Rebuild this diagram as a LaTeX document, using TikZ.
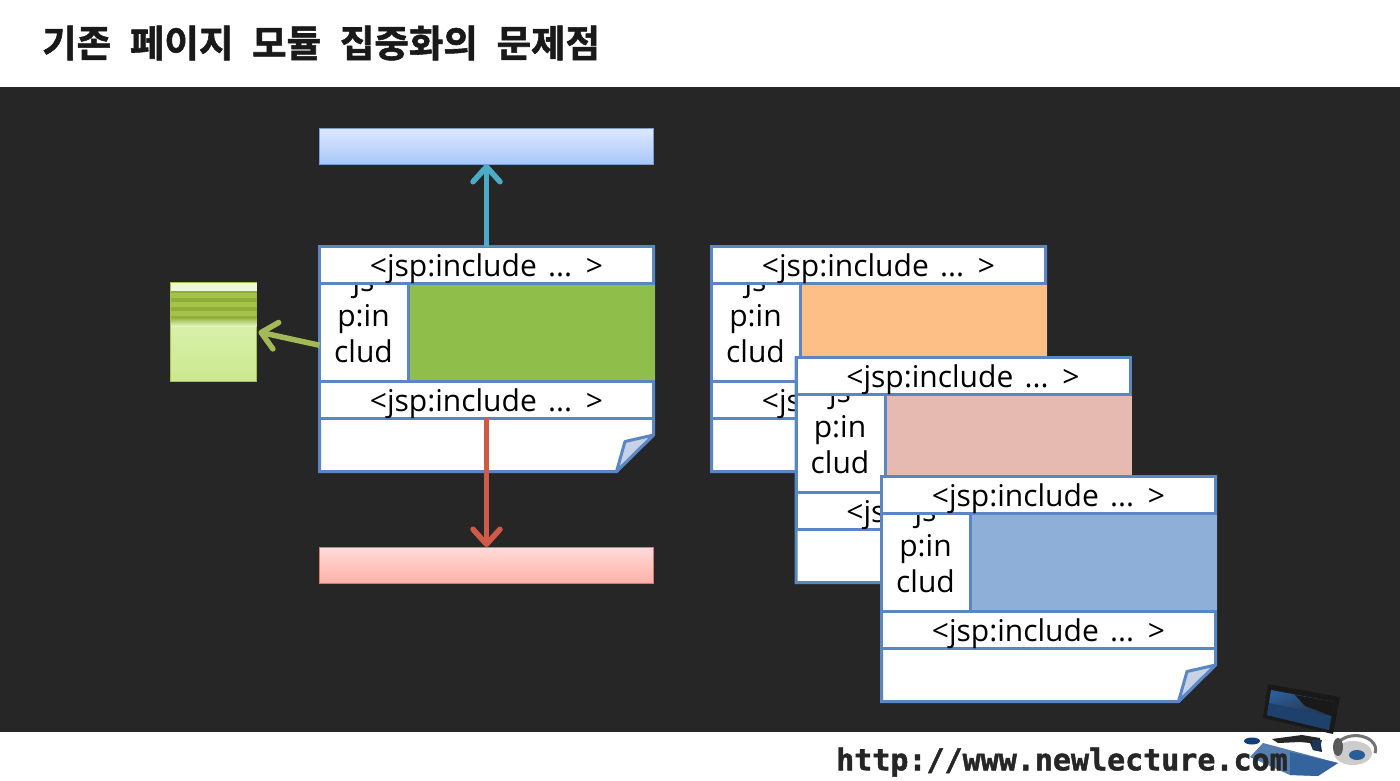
\documentclass[tikz,border=0pt]{standalone}
\usepackage{fontspec}
\setmainfont[WordSpace=1.45]{Open Sans}
\newfontfamily\titlefont[WordSpace=2.2,FakeBold=1.5]{Noto Sans CJK KR Bold}
\newfontfamily\urlfont[FakeBold=1.5]{DejaVu Sans Mono Bold}
\usepackage{xcolor}
\usetikzlibrary{arrows.meta}
\definecolor{slide}{HTML}{262626}
\definecolor{rim}{HTML}{5A87C3}
\definecolor{fold}{HTML}{C6D3E6}
\definecolor{leaf}{HTML}{8FBF4A}
\definecolor{peach}{HTML}{FDBF86}
\definecolor{rose}{HTML}{E6B9B1}
\definecolor{sky}{HTML}{8EAFD8}
\definecolor{arrowblue}{HTML}{4BACC6}
\definecolor{arrowred}{HTML}{CF5A48}
\definecolor{arrowolive}{HTML}{A3B957}
\definecolor{barblue}{HTML}{A9C6F7}
\definecolor{barblueup}{HTML}{DDE9FF}
\definecolor{barred}{HTML}{FFB0A8}
\definecolor{barredup}{HTML}{FFDCD8}
\definecolor{stripe}{HTML}{8EAE36}
\definecolor{stripelit}{HTML}{A6C24C}
\definecolor{notetop}{HTML}{E4F5C0}
\definecolor{notelow}{HTML}{CBE98E}
\definecolor{navy}{HTML}{123F78}
\definecolor{keyblue}{HTML}{2A5C98}
\tikzset{
  rowbox/.style={draw=rim,line width=3pt,fill=white,anchor=north west,inner sep=0pt,outer sep=0pt,minimum width=334pt,minimum height=36.5pt,text height=23pt,text depth=0pt,font=\fontsize{30}{36}\selectfont},
  cellbox/.style={draw=rim,line width=3pt,fill=white,anchor=north west,inner sep=0pt,outer sep=0pt,minimum width=89pt,minimum height=98.5pt},
  word/.style={anchor=base,inner sep=0pt,font=\fontsize{30}{36}\selectfont},
  link/.style={line width=5.5pt,-{Straight Barb[round,length=15pt,width=27pt,line width=5.5pt]}},
  sheet/.pic={
    \draw[rim,line width=3pt,fill=white](0,0)--(334,0)--(334,188.5)--(297,225)--(0,225)--cycle;
    \node[cellbox](-cell) at (0,36.5){};
    \fill[#1](90.5,36.5) rectangle (335.5,135);
    \foreach \w/\y in {js/45,p:in/80,clud/116}
      \node[word](-w\y) at (44,\y){\w};
    \node[rowbox](-head) at (0,0){<jsp:include ... >};
    \node[rowbox](-foot) at (0,135){<jsp:include ... >};
    \draw[rim,line width=3pt,fill=fold,line join=round](297,225)--(305.5,195)--(334,188.5)--cycle;
  }
}
\begin{document}
\begin{tikzpicture}[x=1pt,y=-1pt]
\useasboundingbox(0,0) rectangle (1400,780);
\fill[white](0,0) rectangle (1400,780);
\fill[slide](0,87) rectangle (1400,732);
\node[anchor=west,inner sep=0pt,text=black!90,font=\titlefont\fontsize{37.5}{44}\selectfont](title) at (42,43){기존 페이지 모듈 집중화의 문제점};
% bars and note
\node[draw=rim!80,line width=1pt,top color=barblueup,bottom color=barblue,inner sep=0pt,outer sep=0pt,minimum width=334pt,minimum height=36pt,anchor=north west](view) at (319.5,128){};
\node[draw=arrowred!80,line width=1pt,top color=barredup,bottom color=barred,inner sep=0pt,outer sep=0pt,minimum width=334pt,minimum height=36pt,anchor=north west](model) at (319.5,547){};
\node[draw=stripelit,line width=1pt,inner sep=0pt,outer sep=0pt,minimum width=86pt,minimum height=99pt,anchor=north west,top color=notetop,bottom color=notelow](note) at (170.5,282){};
\fill[notetop!60!white](171,282.5) rectangle (256.5,291);
\fill[stripe](171,291) rectangle (256.5,317);
\fill[stripelit](171,293) rectangle (256.5,298)(171,302) rectangle (256.5,307)(171,311) rectangle (256.5,316);
\shade[top color=stripe,bottom color=notetop](171,317) rectangle (256.5,326);
% sheets
\pic(sa) at (319.5,246.5){sheet=leaf};
\pic(sb) at (711.5,246.5){sheet=peach};
\pic(sc) at (796,357.5){sheet=rose};
\pic(sd) at (881.5,476.5){sheet=sky};
% arrows
\draw[link,arrowblue](sa-head.north)--(view.south);
\draw[link,arrowred](sa-foot.south)--(model.north);
\draw[link,arrowolive,shorten >=2pt]([yshift=-13pt]sa-cell.west)--(note.east);
% computer
\fill[black!90](1268,684)--(1340,697)--(1333,734)--(1263,718)--cycle;
\shade[left color=keyblue,right color=black!85,shading angle=20](1271,690)--(1335,702)--(1329,730)--(1267,715)--cycle;
\fill[keyblue!70!black](1269,703)--(1331,716)--(1329,730)--(1267,715)--cycle;
\fill[black!90](1295,695)--(1335,702)--(1332,716)--(1305,706)--cycle;
\fill[black!85](1272,739)--(1302,735)--(1320,738)--(1322,752)--(1313,750)--(1310,743)--(1300,742)--(1278,743)--cycle;
\fill[keyblue!60!black](1312,740)--(1322,740)--(1319,751)--(1313,750)--cycle;
\fill[navy](1252,741) ellipse (8pt and 3.5pt);
\draw[black!55,line width=3pt](1336,752) arc (190:-15:20pt and 14pt);
\fill[black!20](1353,753) ellipse (19pt and 12pt);
\fill[black!65](1338,747) ellipse (5pt and 9pt);
\fill[keyblue](1357,755) ellipse (8pt and 5pt);
\fill[keyblue!80!white](1263,743)--(1338,763)--(1318,776)--(1290,775)--(1250,757)--cycle;
\node[anchor=west,inner sep=0pt,text=black!85,font=\urlfont\fontsize{30}{36}\selectfont](url) at (836,762){http://www.newlecture.com};
\fill[keyblue,opacity=.75](1290,752)--(1338,763)--(1318,776)--(1290,775)--cycle;
\end{tikzpicture}
\end{document}
